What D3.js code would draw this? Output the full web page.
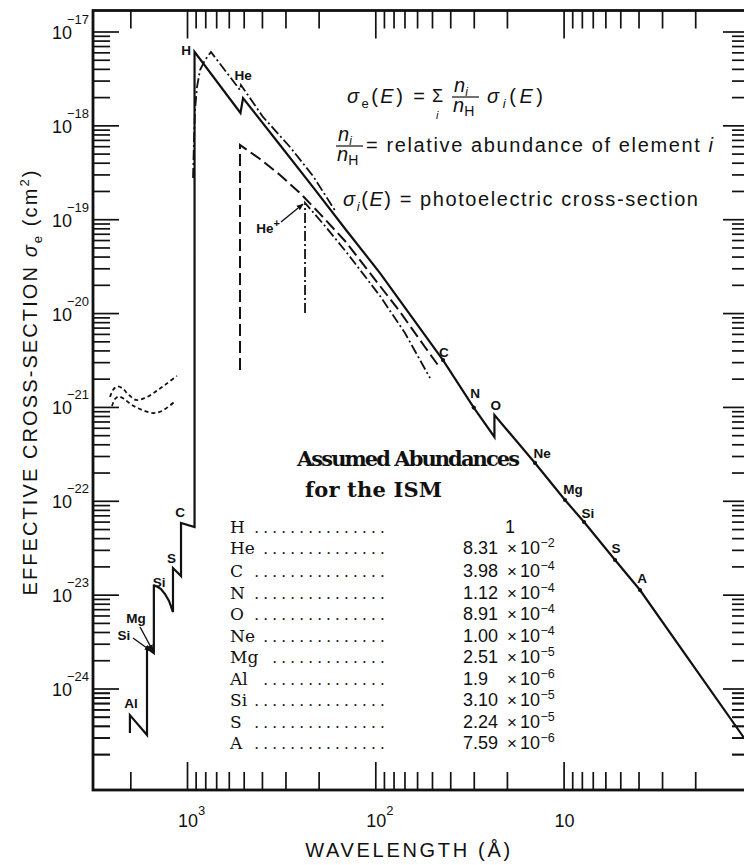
<!DOCTYPE html>
<html><head><meta charset="utf-8">
<script src="https://cdn.jsdelivr.net/npm/d3@7"></script>
<style>
body{margin:0;background:#fff;}
svg{display:block;}
text{fill:#111;}
</style></head>
<body>
<svg id="chart" width="744" height="865"></svg>
<script>
// ---------------- data ----------------
const xDomain = [3157, 1.036];          // wavelength (Å), reversed log axis
const yDomain = [1.674e-17, 8.29e-26];  // cross-section (cm^2)
const xMajorTicks = [1000, 100, 10];
const xMajorExp = ["3", "2", ""];
const xMinorTicks = [2000, 900, 800, 700, 600, 500, 400, 300, 200, 90, 80, 70, 60, 50, 40, 30, 20, 9, 8, 7, 6, 5, 4, 3, 2];
const yMajorExp = [-17, -18, -19, -20, -21, -22, -23, -24];
const yMinorMant = [2, 3, 4, 5, 6, 7, 8, 9];

// total effective cross-section (solid)
const totalWave = [2010, 2010, 1631, 1631, 1500, 1500, 1443, 1374, 1309, 1246, 1187, 1187, 1076, 1076, 912, 912, 520, 504, 320.8, 214.2, 143, 94.4, 43.7, 30, 23.3, 23.3, 14.19, 9.83, 7.79, 5.33, 3.93, 1.1];
const totalSigma = [3.36e-25, 5.2e-25, 3.2e-25, 2.7e-24, 2.39e-24, 1.24e-23, 1.222e-23, 1.149e-23, 1.016e-23, 8.56e-24, 6.53e-24, 1.92e-23, 1.58e-23, 5.8e-23, 5.26e-23, 6.09e-18, 1.355e-18, 1.955e-18, 6.18e-19, 2.2e-19, 7.67e-20, 2.67e-20, 3.16e-21, 9.84e-22, 4.79e-22, 8.2e-22, 2.53e-22, 1.02e-22, 5.94e-23, 2.34e-23, 1.12e-23, 2.97e-25];

// small K-edge marks along the solid curve
const edgeMarkWave = [43.7, 30, 14.19, 9.83, 7.79, 5.33, 3.93];
const edgeMarkSigma = [3.16e-21, 9.84e-22, 2.53e-22, 1.02e-22, 5.94e-23, 2.34e-23, 1.12e-23];

// upper dash-dot curve (rises at the H edge)
const hWave = [929, 918, 907, 885, 853, 802, 746, 523, 517, 395, 283.8, 214.2, 161.7];
const hSigma = [2.75e-19, 6.98e-19, 1.46e-18, 2.56e-18, 3.89e-18, 4.97e-18, 6.05e-18, 2.38e-18, 2.69e-18, 1.23e-18, 5.88e-19, 2.89e-19, 1.19e-19];

// He contribution (long dashes)
const heWave = [523, 523, 409.6, 320.8, 251.1, 196.7, 144.8, 106.7, 73.9, 54.5, 45.3];
const heSigma = [2.48e-21, 6.18e-19, 4.38e-19, 2.96e-19, 1.90e-19, 1.14e-19, 5.86e-20, 2.67e-20, 1.03e-20, 4.35e-21, 2.6e-21];

// He+ contribution (dash-dot)
const hepWave = [236.2, 236.2, 185, 141.3, 94.4, 69.6, 51.2];
const hepSigma = [1.0e-20, 1.49e-19, 8.47e-20, 4.37e-20, 1.52e-20, 6.14e-21, 2.03e-21];

// short-dashed curves near 1e-21
const dustUpWave = [2564, 2472, 2353, 2214, 2057, 1866, 1671, 1479, 1293, 1130];
const dustUpSigma = [1.276e-21, 1.517e-21, 1.65e-21, 1.59e-21, 1.37e-21, 1.186e-21, 1.245e-21, 1.44e-21, 1.75e-21, 2.14e-21];
const dustLoWave = [2502, 2413, 2311, 2161, 1960, 1734, 1516, 1358, 1172];
const dustLoSigma = [1.023e-21, 1.216e-21, 1.29e-21, 1.216e-21, 1.05e-21, 9.29e-22, 8.61e-22, 9.05e-22, 1.127e-21];

// edge labels (text, wavelength, sigma at label baseline-centre)
const edgeLabelText = ["H", "He", "C", "N", "O", "Ne", "Mg", "Si", "S", "A", "C", "S", "Si", "Mg", "Si", "Al"];
const edgeLabelWave = [1012, 504, 43.2, 29.5, 22.9, 13.0, 8.91, 7.42, 5.27, 3.83, 1089, 1209, 1408, 1866, 2161, 1983];
const edgeLabelSigma = [5.62e-18, 3.04e-18, 3.4e-21, 1.245e-21, 9.27e-22, 2.86e-22, 1.18e-22, 6.56e-23, 2.78e-23, 1.33e-23, 6.71e-23, 2.17e-23, 1.21e-23, 4.99e-24, 3.29e-24, 6.2e-25];

// arrows [fromWave, fromSigma, toWave, toSigma]
const arrowFromWave = [316.8, 1776, 1936];
const arrowFromSigma = [9.34e-20, 4.52e-24, 3.45e-24];
const arrowToWave = [242, 1516, 1553];
const arrowToSigma = [1.45e-19, 2.51e-24, 2.51e-24];
const hePlusLabelWave = 371, hePlusLabelSigma = 7.13e-20;

// abundance table
const elements = ["H", "He", "C", "N", "O", "Ne", "Mg", "Al", "Si", "S", "A"];
const abundMantissa = ["1", "8.31", "3.98", "1.12", "8.91", "1.00", "2.51", "1.9", "3.10", "2.24", "7.59"];
const abundExponent = [null, -2, -4, -4, -4, -4, -5, -6, -5, -5, -6];

// ---------------- drawing ----------------
const SANS = "'Liberation Sans', Arial, Helvetica, sans-serif";
const SERIF = "'DejaVu Serif', 'Liberation Serif', serif";
const svg = d3.select("#chart");
const L = 93, R = 749, T = 10.5, B = 790;
const xS = d3.scaleLog().domain(xDomain).range([L, R]);
const yS = d3.scaleLog().domain(yDomain).range([T, B]);
const zip = (a, b) => a.map((v, i) => [v, b[i]]);
const MINUS = "\u2212";

function fitText(sel, target) {
  const node = sel.node();
  const n = node.textContent.length;
  const w = node.getComputedTextLength();
  if (n > 1) sel.attr("letter-spacing", ((target - w) / (n - 1)).toFixed(3));
}

const defs = svg.append("defs");
defs.append("clipPath").attr("id", "plotclip")
  .append("rect").attr("x", L).attr("y", T).attr("width", R - L).attr("height", B - T);
defs.append("marker").attr("id", "arrow").attr("viewBox", "0 0 10 10")
  .attr("refX", 9).attr("refY", 5).attr("markerWidth", 7).attr("markerHeight", 7)
  .attr("markerUnits", "userSpaceOnUse").attr("orient", "auto")
  .append("path").attr("d", "M0,1 L10,5 L0,9 Z").attr("fill", "#111");

// ticks
const yMinorTicks = [];
yMajorExp.forEach(e => yMinorMant.forEach(m => {
  const v = m * Math.pow(10, e - 1);
  if (v <= yDomain[0] && v >= yDomain[1]) yMinorTicks.push(v);
}));
yMinorMant.forEach(m => {
  const v = m * Math.pow(10, -25);
  if (v >= yDomain[1]) yMinorTicks.push(v);
});
const yMajorTicks = yMajorExp.map(e => Math.pow(10, e));

function addTicks(gen, tr, vals, size) {
  svg.append("g").attr("transform", tr)
    .call(gen.tickValues(vals).tickSize(size).tickSizeOuter(0).tickFormat(""))
    .call(g => g.select(".domain").remove())
    .call(g => g.selectAll("line").attr("stroke", "#111").attr("stroke-width", 1.7));
}
addTicks(d3.axisBottom(xS), `translate(0,${B})`, xMajorTicks, -28);
addTicks(d3.axisBottom(xS), `translate(0,${B})`, xMinorTicks, -18);
addTicks(d3.axisTop(xS), `translate(0,${T})`, xMajorTicks, -28);
addTicks(d3.axisTop(xS), `translate(0,${T})`, xMinorTicks, -18);
addTicks(d3.axisLeft(yS), `translate(${L},0)`, yMajorTicks, -26);
addTicks(d3.axisLeft(yS), `translate(${L},0)`, yMinorTicks, -17);
addTicks(d3.axisRight(yS), `translate(${R},0)`, yMajorTicks, -26);
addTicks(d3.axisRight(yS), `translate(${R},0)`, yMinorTicks, -17);

// frame
svg.append("rect").attr("x", L).attr("y", T).attr("width", R - L).attr("height", B - T)
  .attr("fill", "none").attr("stroke", "#111").attr("stroke-width", 2.8);

// y tick labels
const ylab = svg.append("g").attr("font-family", SANS);
ylab.selectAll("text.base").data(yMajorExp).join("text").attr("class", "base")
  .attr("x", 72).attr("y", e => yS(Math.pow(10, e)) + 7.5).attr("text-anchor", "end")
  .attr("font-size", 18).text("10");
ylab.selectAll("text.exp").data(yMajorExp).join("text").attr("class", "exp")
  .attr("x", 67).attr("y", e => yS(Math.pow(10, e)) - 7.5).attr("font-size", 13)
  .text(e => MINUS + (-e));

// x tick labels
const xlab = svg.append("g").attr("font-family", SANS);
xlab.selectAll("text.base").data(xMajorTicks).join("text").attr("class", "base")
  .attr("x", v => xS(v) + 1).attr("y", 827).attr("text-anchor", "middle")
  .attr("font-size", 18).text("10");
xlab.selectAll("text.exp").data(xMajorTicks).join("text").attr("class", "exp")
  .attr("x", v => xS(v) + 11).attr("y", 815).attr("font-size", 13)
  .text((v, i) => xMajorExp[i]);

// axis titles
const xt = svg.append("text").attr("x", 409).attr("y", 857).attr("text-anchor", "middle")
  .attr("font-family", SANS).attr("font-size", 20).text("WAVELENGTH (\u00C5)");
fitText(xt, 205);

const yt = svg.append("text").attr("transform", "translate(37,382) rotate(-90)")
  .attr("text-anchor", "middle").attr("font-family", SANS).attr("font-size", 20);
yt.append("tspan").text("EFFECTIVE CROSS-SECTION ");
yt.append("tspan").attr("font-style", "italic").text("\u03C3");
yt.append("tspan").attr("font-size", 13).attr("dy", 5).text("e");
yt.append("tspan").attr("dy", -5).text(" (cm");
yt.append("tspan").attr("font-size", 13).attr("dy", -8).text("2");
yt.append("tspan").attr("dy", 8).text(")");
fitText(yt, 425);

// curves
const plotG = svg.append("g").attr("clip-path", "url(#plotclip)");
const line = d3.line().x(d => xS(d[0])).y(d => yS(d[1]));
const smooth = d3.line().x(d => xS(d[0])).y(d => yS(d[1])).curve(d3.curveCatmullRom);

plotG.append("path").attr("d", smooth(zip(dustUpWave, dustUpSigma)))
  .attr("fill", "none").attr("stroke", "#111").attr("stroke-width", 1.8).attr("stroke-dasharray", "4,3");
plotG.append("path").attr("d", smooth(zip(dustLoWave, dustLoSigma)))
  .attr("fill", "none").attr("stroke", "#111").attr("stroke-width", 1.8).attr("stroke-dasharray", "4,3");

plotG.append("path").attr("d", line(zip(heWave, heSigma)))
  .attr("fill", "none").attr("stroke", "#111").attr("stroke-width", 2).attr("stroke-dasharray", "12,5");
plotG.append("path").attr("d", line(zip(hepWave, hepSigma)))
  .attr("fill", "none").attr("stroke", "#111").attr("stroke-width", 1.8).attr("stroke-dasharray", "10,3,2,3");
plotG.append("path").attr("d", line(zip(hWave, hSigma)))
  .attr("fill", "none").attr("stroke", "#111").attr("stroke-width", 1.8).attr("stroke-dasharray", "10,3,2,3");
plotG.append("path").attr("d", line(zip(totalWave, totalSigma)))
  .attr("fill", "none").attr("stroke", "#111").attr("stroke-width", 2.2).attr("stroke-linejoin", "miter");

plotG.selectAll("circle.edge").data(zip(edgeMarkWave, edgeMarkSigma)).join("circle")
  .attr("class", "edge").attr("cx", d => xS(d[0])).attr("cy", d => yS(d[1])).attr("r", 2.1).attr("fill", "#111");

// arrows
plotG.selectAll("line.arr").data(arrowFromWave).join("line").attr("class", "arr")
  .attr("x1", (d, i) => xS(arrowFromWave[i])).attr("y1", (d, i) => yS(arrowFromSigma[i]))
  .attr("x2", (d, i) => xS(arrowToWave[i])).attr("y2", (d, i) => yS(arrowToSigma[i]))
  .attr("stroke", "#111").attr("stroke-width", 1.4).attr("marker-end", "url(#arrow)");

// edge labels
const lab = svg.append("g").attr("font-family", SANS).attr("font-weight", "bold").attr("font-size", 13.5);
lab.selectAll("text").data(edgeLabelText).join("text")
  .attr("x", (d, i) => xS(edgeLabelWave[i])).attr("y", (d, i) => yS(edgeLabelSigma[i]))
  .attr("text-anchor", "middle").text(d => d);
const hp = lab.append("text").attr("x", xS(hePlusLabelWave)).attr("y", yS(hePlusLabelSigma)).attr("text-anchor", "middle");
hp.append("tspan").text("He");
hp.append("tspan").attr("dy", -6).attr("font-size", 11).text("+");

// formula block
const F = svg.append("g").attr("font-family", SANS).attr("font-size", 20);
const l1 = F.append("text").attr("x", 347).attr("y", 103);
l1.append("tspan").attr("font-style", "italic").text("\u03C3");
l1.append("tspan").attr("font-size", 13).attr("dy", 5).text("e");
l1.append("tspan").attr("dy", -5).text("(");
l1.append("tspan").attr("font-style", "italic").text("E");
l1.append("tspan").text(") =");
fitText(l1, 78);
F.append("text").attr("x", 432).attr("y", 102).attr("font-size", 18).text("\u03A3");
F.append("text").attr("x", 436).attr("y", 119).attr("font-size", 11).attr("font-style", "italic").text("i");
function frac(x0, yNum, yBar, yDen) {
  const n1 = F.append("text").attr("x", x0 + 1).attr("y", yNum);
  n1.append("tspan").attr("font-style", "italic").text("n");
  n1.append("tspan").attr("font-style", "italic").attr("font-size", 12).attr("dy", 4).text("i");
  F.append("line").attr("x1", x0 - 1).attr("x2", x0 + 26).attr("y1", yBar).attr("y2", yBar)
    .attr("stroke", "#111").attr("stroke-width", 1.2);
  const n2 = F.append("text").attr("x", x0).attr("y", yDen);
  n2.append("tspan").attr("font-style", "italic").text("n");
  n2.append("tspan").attr("font-size", 14).attr("dy", 4).text("H");
}
frac(453, 92, 97, 112);
const l1b = F.append("text").attr("x", 487).attr("y", 103);
l1b.append("tspan").attr("font-style", "italic").text("\u03C3");
l1b.append("tspan").attr("font-style", "italic").attr("font-size", 13).attr("dy", 5).text("i");
l1b.append("tspan").attr("dy", -5).text("(");
l1b.append("tspan").attr("font-style", "italic").text("E");
l1b.append("tspan").text(")");
fitText(l1b, 56);

frac(337, 141, 146, 161);
const l2 = F.append("text").attr("x", 366).attr("y", 152);
l2.append("tspan").text("= relative abundance of element ");
l2.append("tspan").attr("font-style", "italic").text("i");
fitText(l2, 347);

const l3 = F.append("text").attr("x", 343).attr("y", 206);
l3.append("tspan").attr("font-style", "italic").text("\u03C3");
l3.append("tspan").attr("font-style", "italic").attr("font-size", 13).attr("dy", 5).text("i");
l3.append("tspan").attr("dy", -5).text("(");
l3.append("tspan").attr("font-style", "italic").text("E");
l3.append("tspan").text(") = photoelectric cross-section");
fitText(l3, 355);

// abundance table
const tb = svg.append("g");
const t1 = tb.append("text").attr("x", 297).attr("y", 466).attr("font-family", SERIF)
  .attr("font-weight", "bold").attr("font-size", 21).text("Assumed Abundances");
fitText(t1, 223);
const t2 = tb.append("text").attr("x", 305).attr("y", 497).attr("font-family", SERIF)
  .attr("font-weight", "bold").attr("font-size", 21).text("for the ISM");
fitText(t2, 137);

const rowBase = i => i === 0 ? 533 : (i === 1 ? 554 : 577 + (i - 2) * 21.5);
const DOT_PITCH = 9;
elements.forEach((el, i) => {
  const yb = rowBase(i);
  const lt = tb.append("text").attr("x", 230).attr("y", yb).attr("font-family", SERIF).attr("font-size", 17).text(el);
  const labelEnd = 230 + lt.node().getComputedTextLength();
  // leader dots, right-aligned at x = 385
  const probe = tb.append("text").attr("font-family", SERIF).attr("font-size", 15).text(".");
  const dw = probe.node().getComputedTextLength();
  probe.remove();
  const firstMin = labelEnd + 7;
  const nd = Math.max(1, Math.floor((385 - dw - firstMin) / DOT_PITCH) + 1);
  const x0 = 385 - dw - (nd - 1) * DOT_PITCH;
  tb.append("text").attr("x", x0).attr("y", yb).attr("font-family", SERIF)
    .attr("font-size", 15).attr("letter-spacing", (DOT_PITCH - dw).toFixed(3)).text(".".repeat(nd));
  if (abundExponent[i] === null) {
    tb.append("text").attr("x", 510).attr("y", yb).attr("text-anchor", "middle").attr("font-family", SANS)
      .attr("font-size", 18).text(abundMantissa[i]);
  } else {
    tb.append("text").attr("x", 463).attr("y", yb).attr("font-family", SANS).attr("font-size", 18).text(abundMantissa[i]);
    tb.append("text").attr("x", 512).attr("y", yb).attr("text-anchor", "middle").attr("font-family", SANS).attr("font-size", 17).text("\u00D7");
    tb.append("text").attr("x", 520).attr("y", yb).attr("font-family", SANS).attr("font-size", 18).text("10");
    tb.append("text").attr("x", 540.5).attr("y", yb - 7).attr("font-family", SANS).attr("font-size", 12.5).text(MINUS + (-abundExponent[i]));
  }
});
</script>
</body></html>
